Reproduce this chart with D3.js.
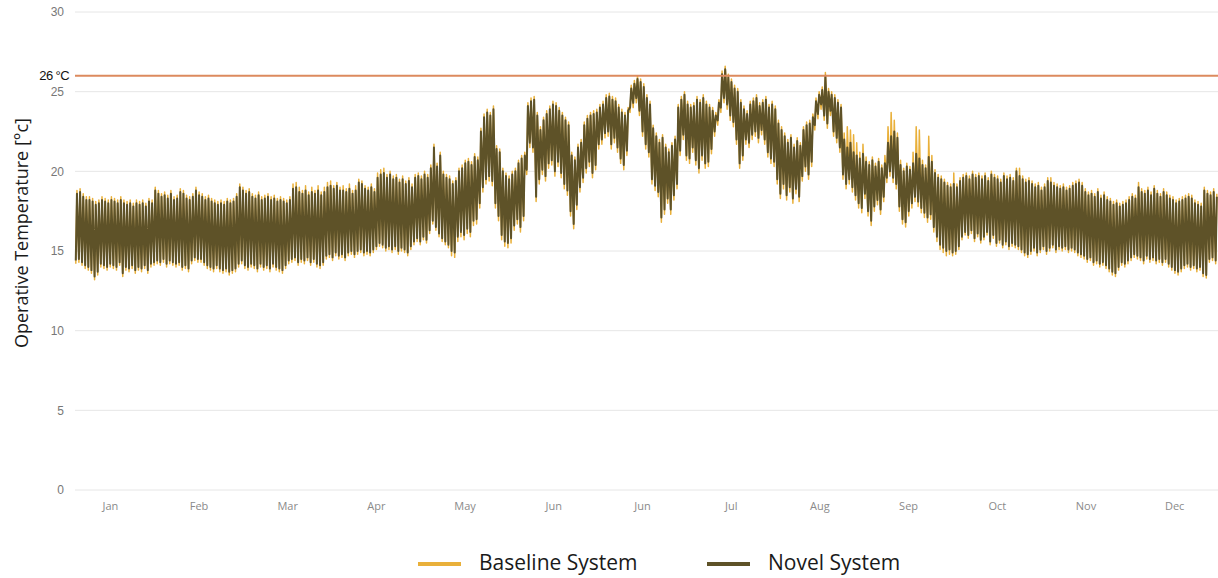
<!DOCTYPE html>
<html lang="en">
<head>
<meta charset="UTF-8">
<script src="https://d3js.org/d3.v7.min.js"></script>
<title>Operative Temperature</title>
<style>
  body { margin: 0; background: white; }
  svg { display: block; }
  .grid line { stroke: #e6e6e6; stroke-width: 1; }
  .ytick { font: 12px "Liberation Sans", Arial, sans-serif; fill: #777; }
  .xtick { font: 11px "Open Sans", sans-serif; fill: #8a8a8a; }
  .ylabel { font: 18.5px "Open Sans", sans-serif; fill: #1a1a1a; }
  .legend text { font: 21px "Open Sans", sans-serif; fill: #1a1a1a; }
</style>
</head>
<body>
<svg width="1218" height="578"></svg>
<script>
// daily lows / highs (degC), day 0 = 1 Jan
const novelHigh = [
  18.6,18.7,18.4,18.2,18.2,18.1,17.9,18.0,18.2,18.1,
  18.0,18.2,18.1,18.0,18.2,18.0,17.9,18.0,17.8,18.0,
  17.9,18.0,17.8,18.1,18.0,18.8,18.6,18.4,18.5,18.3,
  18.6,18.2,18.3,18.7,18.6,18.3,18.2,18.4,18.8,18.5,
  18.4,18.2,18.3,18.1,18.0,17.9,18.0,17.9,18.1,18.0,
  18.1,18.4,19.0,18.8,18.6,18.7,18.4,18.3,18.5,18.2,
  18.3,18.4,18.2,18.3,18.1,18.2,18.1,18.0,18.2,18.9,
  19.0,18.7,18.6,18.8,18.5,18.7,18.6,18.8,18.5,18.7,
  19.0,19.1,18.9,19.1,18.8,18.8,18.7,18.9,18.6,18.8,
  19.3,19.2,18.9,18.8,19.0,18.7,19.6,19.8,19.9,19.6,
  19.8,19.5,19.6,19.3,19.5,19.2,19.4,19.0,19.6,19.7,
  19.5,19.8,19.6,20.2,21.5,20.3,21.0,19.8,19.6,19.5,
  19.2,19.4,20.0,20.2,20.5,20.6,20.4,20.9,20.7,22.5,
  23.4,23.7,23.5,23.9,21.4,21.2,20.0,19.7,19.5,19.8,
  20.0,20.5,20.8,21.0,24.1,24.4,24.5,23.5,22.6,23.2,
  23.6,23.9,24.2,24.1,23.8,23.5,23.2,22.9,21.0,20.7,
  21.5,21.8,22.9,23.3,23.5,23.6,23.7,24.0,24.2,24.6,
  24.7,24.5,24.4,24.0,23.7,23.5,23.8,25.2,25.5,25.8,
  25.6,25.3,24.6,24.2,22.7,22.2,21.8,22.1,21.5,21.2,
  21.6,22.0,24.0,24.5,24.8,24.2,24.0,24.1,24.5,24.3,
  24.6,24.2,24.0,23.8,23.5,24.3,26.1,26.4,25.9,25.6,
  25.2,25.0,24.3,23.9,23.6,24.2,24.4,24.6,24.1,24.3,
  24.5,24.0,24.2,23.9,23.0,22.6,22.2,21.8,22.1,21.5,
  21.9,21.6,22.6,22.9,23.0,23.4,24.4,24.8,25.1,26.0,
  25.0,24.8,24.6,24.3,24.0,22.0,21.5,21.8,21.2,21.0,
  20.8,21.1,20.6,20.4,20.7,20.3,20.6,20.2,20.5,21.8,
  22.2,22.5,22.1,20.4,20.0,20.3,20.1,20.5,21.1,20.8,
  20.4,20.2,20.9,20.6,19.9,19.6,19.5,19.3,19.1,19.0,
  19.2,19.0,19.4,19.6,19.7,19.5,19.8,19.6,19.7,19.5,
  19.7,19.4,19.8,19.6,19.5,19.3,19.7,19.5,19.6,19.4,
  20.0,19.7,19.5,19.3,19.4,19.2,19.0,19.1,18.8,19.0,
  19.4,19.3,19.1,19.0,18.9,19.0,18.8,18.9,19.1,19.2,
  19.3,19.1,18.7,18.5,18.6,18.4,18.7,18.3,18.5,18.2,
  18.1,17.9,18.0,17.8,17.9,18.0,18.2,18.4,18.3,19.0,
  18.7,18.6,18.8,18.5,18.9,18.6,18.4,18.7,18.5,18.3,
  18.2,18.0,18.1,18.2,18.3,18.4,18.3,18.0,17.9,17.8,
  18.8,18.6,18.5,18.7,18.4
];
const novelLow = [
  14.4,14.5,14.3,14.1,14.0,13.8,13.4,13.7,14.2,14.1,
  14.0,14.2,14.1,14.0,14.3,13.6,14.0,13.9,14.1,13.8,
  14.0,13.9,14.1,13.8,14.2,14.3,14.4,14.3,14.5,14.2,
  14.4,14.3,14.2,14.3,14.0,14.1,13.9,14.4,14.6,14.5,
  14.5,14.3,14.1,14.0,13.9,14.1,13.9,13.8,13.9,13.7,
  13.8,13.9,14.2,14.4,14.1,14.0,14.2,14.1,13.9,14.2,
  14.0,14.1,13.9,14.2,14.0,13.9,13.8,14.1,14.4,14.5,
  14.6,14.3,14.5,14.4,14.6,14.3,14.5,14.2,14.1,14.3,
  14.7,14.8,14.6,14.9,14.7,14.8,14.6,14.9,15.0,14.8,
  15.0,15.1,14.9,15.0,14.9,15.1,15.3,15.5,15.4,15.2,
  15.3,15.1,15.3,15.0,15.2,15.1,14.9,15.3,15.6,15.8,
  15.6,15.9,15.7,16.3,16.9,16.5,16.1,15.8,15.6,15.4,
  15.0,14.9,15.9,16.2,16.0,16.4,16.2,16.9,17.0,18.0,
  19.0,19.5,19.7,19.4,18.0,17.2,16.0,15.6,15.5,15.8,
  16.6,17.0,16.5,17.2,20.1,21.8,21.5,18.4,19.5,20.1,
  19.7,20.5,20.7,20.0,20.6,19.9,19.2,18.8,17.5,16.7,
  17.9,19.0,19.6,20.2,20.6,19.9,20.4,21.7,22.0,22.4,
  22.5,21.7,22.1,21.5,20.8,20.4,21.3,24.0,24.3,24.6,
  23.8,22.5,21.7,21.2,19.5,19.1,18.7,17.1,17.6,18.3,
  17.6,18.5,19.2,21.3,22.3,21.0,20.8,21.5,20.7,20.2,
  21.0,20.5,20.6,21.4,22.5,23.2,24.0,24.6,24.2,23.5,
  23.1,22.0,20.5,21.0,22.0,21.8,22.3,22.5,22.1,22.6,
  22.0,21.2,20.8,20.6,19.5,18.6,19.2,18.5,19.0,18.3,
  18.9,18.4,19.7,20.3,19.8,20.6,22.9,23.6,24.2,23.5,
  23.0,23.8,22.5,22.1,21.5,19.8,19.2,19.5,19.0,18.5,
  18.0,17.7,18.6,17.5,16.9,17.8,18.2,17.6,18.4,19.6,
  20.0,19.6,19.2,17.8,17.0,16.8,17.5,18.0,18.4,18.1,
  17.7,17.4,17.1,17.3,16.5,15.9,15.4,15.2,15.0,15.1,
  14.9,15.0,15.3,15.9,16.2,16.0,16.3,15.8,16.1,15.7,
  15.9,16.2,15.6,16.0,15.5,15.7,15.4,15.6,15.3,15.5,
  15.4,15.3,15.1,14.9,14.8,15.0,15.2,14.9,15.1,15.3,
  15.0,15.2,15.4,15.1,15.3,15.2,15.3,15.1,15.2,15.1,
  14.9,14.8,14.7,14.5,14.6,14.3,14.4,14.2,14.3,14.1,
  13.9,13.7,13.6,14.0,14.3,14.2,14.4,14.6,14.8,14.7,
  14.6,14.4,14.7,14.5,14.6,14.4,14.5,14.3,14.5,14.2,
  14.0,13.8,13.7,13.9,14.1,14.2,14.0,14.1,13.9,14.0,
  13.6,13.5,14.5,14.6,14.4
];
const baseHigh = [
  18.8,18.9,18.6,18.4,18.4,18.3,18.1,18.2,18.4,18.3,
  18.2,18.4,18.3,18.2,18.4,18.2,18.1,18.2,18.0,18.2,
  18.1,18.2,18.0,18.3,18.2,19.0,18.8,18.6,18.7,18.5,
  18.8,18.4,18.5,18.9,18.8,18.5,18.4,18.6,19.0,18.7,
  18.6,18.4,18.5,18.3,18.2,18.1,18.2,18.1,18.3,18.2,
  18.3,18.6,19.2,19.0,18.8,18.9,18.6,18.5,18.7,18.4,
  18.5,18.6,18.4,18.5,18.3,18.4,18.3,18.2,18.4,19.2,
  19.3,19.0,18.8,19.1,18.7,19.0,18.8,19.1,18.7,19.0,
  19.3,19.4,19.1,19.3,19.0,19.1,18.9,19.2,18.8,19.1,
  19.5,19.4,19.1,19.0,19.2,18.9,19.9,20.1,20.2,19.8,
  20.0,19.7,19.8,19.5,19.7,19.4,19.6,19.2,19.8,19.9,
  19.7,20.0,19.8,20.4,21.7,20.5,21.2,20.0,19.8,19.7,
  19.4,19.6,20.2,20.4,20.7,20.8,20.6,21.1,20.9,22.7,
  23.6,23.9,23.7,24.1,21.6,21.4,20.2,19.9,19.7,20.0,
  20.2,20.7,21.0,21.2,24.3,24.6,24.7,23.7,22.8,23.4,
  23.8,24.1,24.4,24.3,24.0,23.7,23.4,23.1,21.2,20.9,
  21.7,22.0,23.1,23.5,23.7,23.8,23.9,24.2,24.4,24.8,
  24.9,24.7,24.6,24.2,23.9,23.7,24.0,25.4,25.7,26.0,
  25.8,25.5,24.8,24.4,22.9,22.4,22.0,22.3,21.7,21.4,
  21.8,22.2,24.2,24.7,25.0,24.4,24.2,24.3,24.7,24.5,
  24.8,24.4,24.2,24.0,23.7,24.5,26.3,26.6,26.1,25.8,
  25.4,25.2,24.5,24.1,23.8,24.4,24.6,24.8,24.3,24.5,
  24.7,24.2,24.4,24.1,23.2,22.8,22.4,22.0,22.3,21.7,
  22.1,21.8,22.8,23.1,23.2,23.6,24.6,25.0,25.3,26.2,
  25.2,25.0,24.8,24.5,24.2,22.4,22.8,22.6,22.3,21.8,
  21.2,21.7,20.9,20.6,20.9,20.5,20.8,20.4,21.0,22.8,
  23.7,23.2,22.4,20.7,20.2,20.5,20.3,21.2,22.8,22.6,
  20.7,20.4,22.2,21.0,20.1,19.8,19.7,19.5,19.3,19.2,
  19.9,19.2,19.6,19.8,19.9,19.7,20.0,19.8,19.9,19.7,
  19.9,19.6,20.0,19.8,19.7,19.5,19.9,19.7,19.8,19.6,
  20.2,20.2,19.7,19.5,19.6,19.4,19.2,19.3,19.0,19.2,
  19.6,19.6,19.3,19.2,19.1,19.2,19.0,19.1,19.3,19.4,
  19.5,19.3,18.9,18.7,18.8,18.6,18.9,18.5,18.7,18.4,
  18.3,18.1,18.2,18.0,18.1,18.2,18.4,18.6,18.5,19.3,
  18.9,18.8,19.0,18.7,19.1,18.8,18.6,18.9,18.7,18.5,
  18.4,18.2,18.3,18.4,18.5,18.6,18.5,18.2,18.1,18.0,
  19.0,18.8,18.7,18.9,18.6
];
const baseLow = [
  14.2,14.3,14.1,13.9,13.8,13.6,13.2,13.5,14.0,13.9,
  13.8,14.0,13.9,13.8,14.1,13.4,13.8,13.7,13.9,13.6,
  13.8,13.7,13.9,13.6,14.0,14.1,14.2,14.1,14.3,14.0,
  14.2,14.1,14.0,14.1,13.8,13.9,13.7,14.2,14.4,14.3,
  14.3,14.1,13.9,13.8,13.7,13.9,13.7,13.6,13.7,13.5,
  13.6,13.7,14.0,14.2,13.9,13.8,14.0,13.9,13.7,14.0,
  13.8,13.9,13.7,14.0,13.8,13.7,13.6,13.9,14.2,14.3,
  14.4,14.1,14.3,14.2,14.4,14.1,14.3,14.0,13.9,14.1,
  14.5,14.6,14.4,14.7,14.5,14.6,14.4,14.7,14.8,14.6,
  14.8,14.9,14.7,14.8,14.7,14.9,15.1,15.3,15.2,15.0,
  15.1,14.9,15.1,14.8,15.0,14.9,14.7,15.1,15.4,15.6,
  15.4,15.7,15.5,16.1,16.7,16.3,15.9,15.6,15.4,15.2,
  14.7,14.6,15.6,15.9,15.7,16.1,15.9,16.6,16.7,17.7,
  18.7,19.2,19.4,19.1,17.7,16.9,15.7,15.3,15.2,15.5,
  16.3,16.7,16.2,16.9,19.8,21.5,21.2,18.1,19.2,19.8,
  19.4,20.2,20.4,19.7,20.3,19.6,18.9,18.5,17.2,16.4,
  17.6,18.7,19.3,19.9,20.3,19.6,20.1,21.4,21.7,22.1,
  22.2,21.4,21.8,21.2,20.5,20.1,21.0,23.7,24.0,24.3,
  23.5,22.2,21.4,20.9,19.2,18.8,18.4,16.8,17.3,18.0,
  17.3,18.2,18.9,21.0,22.0,20.7,20.5,21.2,20.4,19.9,
  20.7,20.2,20.3,21.1,22.2,22.9,23.7,24.3,23.9,23.2,
  22.8,21.7,20.2,20.7,21.7,21.5,22.0,22.2,21.8,22.3,
  21.7,20.9,20.5,20.3,19.2,18.3,18.9,18.2,18.7,18.0,
  18.6,18.1,19.4,20.0,19.5,20.3,22.6,23.3,23.9,23.2,
  22.7,23.5,22.2,21.8,21.2,19.5,18.9,19.2,18.7,18.2,
  17.7,17.4,18.3,17.2,16.6,17.5,17.9,17.3,18.1,19.3,
  19.7,19.3,18.9,17.5,16.7,16.5,17.2,17.7,18.1,17.8,
  17.4,17.1,16.8,17.0,16.2,15.6,15.1,14.9,14.7,14.8,
  14.7,14.8,15.1,15.7,16.0,15.8,16.1,15.6,15.9,15.5,
  15.7,16.0,15.4,15.8,15.3,15.5,15.2,15.4,15.1,15.3,
  15.2,15.1,14.9,14.7,14.6,14.8,15.0,14.7,14.9,15.1,
  14.8,15.0,15.2,14.9,15.1,15.0,15.1,14.9,15.0,14.9,
  14.7,14.6,14.5,14.3,14.4,14.1,14.2,14.0,14.1,13.9,
  13.7,13.5,13.4,13.8,14.1,14.0,14.2,14.4,14.6,14.5,
  14.4,14.2,14.5,14.3,14.4,14.2,14.3,14.1,14.3,14.0,
  13.8,13.6,13.5,13.7,13.9,14.0,13.8,13.9,13.7,13.8,
  13.4,13.3,14.3,14.4,14.2
];
const monthLabels = ["Jan","Feb","Mar","Apr","May","Jun","Jun","Jul","Aug","Sep","Oct","Nov","Dec"];
const yTicks = [0, 5, 10, 15, 20, 25, 30];
const limitValue = 26;
const limitLabel = "26 °C";
const seriesNames = ["Baseline System", "Novel System"];
const seriesColors = ["#e9b03a", "#5e5228"];

const svg = d3.select("svg");
const left = 75, right = 1218;

const x = d3.scaleLinear().domain([0, 365 * 24]).range([left, right]);
const y = d3.scaleLinear().domain([0, 30]).range([490, 12]);
const xMonths = d3.scaleBand().domain(d3.range(monthLabels.length)).range([66, 1219]);

// gridlines + y tick labels
const grid = svg.append("g").attr("class", "grid");
grid.selectAll("line").data(yTicks).enter().append("line")
    .attr("x1", left).attr("x2", right)
    .attr("y1", d => y(d)).attr("y2", d => y(d));
svg.selectAll(".ytick").data(yTicks).enter().append("text")
    .attr("class", "ytick")
    .attr("x", 64).attr("y", d => y(d))
    .attr("dy", "0.35em")
    .attr("text-anchor", "end")
    .text(d => d);

// month labels
svg.selectAll(".xtick").data(monthLabels).enter().append("text")
    .attr("class", "xtick")
    .attr("x", (d, i) => xMonths(i) + xMonths.bandwidth() / 2)
    .attr("y", 510)
    .attr("text-anchor", "middle")
    .text(d => d);

svg.append("text")
    .attr("class", "ylabel")
    .attr("transform", "translate(28,233) rotate(-90)")
    .attr("text-anchor", "middle")
    .attr("textLength", 230)
    .attr("lengthAdjust", "spacingAndGlyphs")
    .text("Operative Temperature [°c]");

// one low (early morning) and one high (afternoon) per day
function toPoints(lows, highs) {
    const pts = [];
    lows.forEach((lo, d) => {
        pts.push([d * 24 + 6, lo]);
        pts.push([d * 24 + 15, highs[d]]);
    });
    return pts;
}
const line = d3.line().x(d => x(d[0])).y(d => y(d[1]));

svg.append("path")
    .datum(toPoints(baseLow, baseHigh))
    .attr("d", line)
    .attr("fill", "none")
    .attr("stroke", seriesColors[0])
    .attr("stroke-width", 1.5)
    .attr("stroke-linejoin", "round");

svg.append("path")
    .datum(toPoints(novelLow, novelHigh))
    .attr("d", line)
    .attr("fill", "none")
    .attr("stroke", seriesColors[1])
    .attr("stroke-width", 2)
    .attr("stroke-linejoin", "round");

// 26 degree limit
svg.append("line")
    .attr("x1", left).attr("x2", right)
    .attr("y1", y(limitValue)).attr("y2", y(limitValue))
    .attr("stroke", "#dc8a5e").attr("stroke-width", 2);
svg.append("text")
    .attr("x", 69).attr("y", y(limitValue))
    .attr("dy", "0.35em")
    .attr("text-anchor", "end")
    .style("font", "13px 'Liberation Sans', Arial, sans-serif")
    .style("letter-spacing", "-0.6px")
    .attr("fill", "#111")
    .text(limitLabel);

// legend
const legend = svg.append("g").attr("class", "legend");
const legendX = [418, 707];
seriesNames.forEach(function(name, i) {
    legend.append("line")
        .attr("x1", legendX[i]).attr("x2", legendX[i] + 43)
        .attr("y1", 564).attr("y2", 564)
        .attr("stroke", seriesColors[i]).attr("stroke-width", 4);
    legend.append("text")
        .attr("x", legendX[i] + 61).attr("y", 570)
        .text(name);
});
</script>
</body>
</html>
